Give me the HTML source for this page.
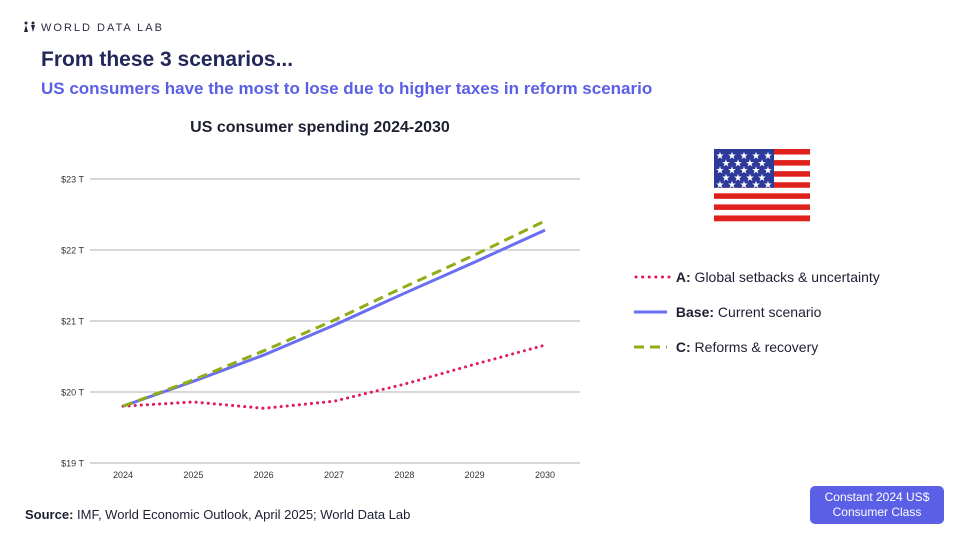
<!DOCTYPE html>
<html><head><meta charset="utf-8"><style>
body{margin:0;width:960px;height:540px;background:#fff;font-family:"Liberation Sans",sans-serif;position:relative;overflow:hidden}
.abs{position:absolute}
</style></head><body>
<div class="abs" style="left:23px;top:21px;font-size:11px;letter-spacing:2px;color:#2b2b45">
<svg width="14" height="11" style="vertical-align:-1px;margin-right:4px"><circle cx="3" cy="2" r="1.5" fill="#1f2340"/><polygon points="1,11 5,11 3,4" fill="#1f2340"/><circle cx="10" cy="2" r="1.5" fill="#1f2340"/><polygon points="8,4 12,4 10,11" fill="#1f2340"/></svg>WORLD DATA LAB</div>
<div class="abs" style="left:41px;top:48px;font-size:21px;font-weight:bold;color:#23275a">From these 3 scenarios...</div>
<div class="abs" style="left:41px;top:79px;font-size:17px;font-weight:bold;color:#5b5fe6">US consumers have the most to lose due to higher taxes in reform scenario</div>
<div class="abs" style="left:120px;width:400px;text-align:center;top:119px;font-size:16px;font-weight:bold;color:#1d1f33">US consumer spending 2024-2030</div>
<svg class="abs" style="left:0;top:0" width="960" height="540" id="chart"></svg>
<svg class="abs" style="left:714px;top:149px" width="97" height="73" id="flag"></svg>
<div class="abs" style="left:634px;top:269px;font-size:14px;color:#1d1f33">
<div style="height:35px"><svg width="38" height="10"><line x1="2" y1="5" x2="36" y2="5" stroke="#e2185a" stroke-width="3" stroke-linecap="round" stroke-dasharray="0.1 6.5"/></svg> <b>A:</b> Global setbacks &amp; uncertainty</div>
<div style="height:35px"><svg width="38" height="10"><line x1="0" y1="5" x2="33" y2="5" stroke="#6a6ef0" stroke-width="3"/></svg> <b>Base:</b> Current scenario</div>
<div style="height:35px"><svg width="38" height="10"><line x1="0" y1="5" x2="33" y2="5" stroke="#8fad15" stroke-width="3" stroke-dasharray="10 6"/></svg> <b>C:</b> Reforms &amp; recovery</div>
</div>
<div class="abs" style="left:25px;top:507px;font-size:13px;color:#1d1f33"><b>Source:</b> IMF, World Economic Outlook, April 2025; World Data Lab</div>
<div class="abs" style="left:810px;top:486px;width:134px;height:38px;background:#5b5fe6;color:#fff;border-radius:5px;font-size:12px;text-align:center;line-height:15px;padding-top:4px;box-sizing:border-box">Constant 2024 US$<br>Consumer Class</div>
<script>
const years=[2024,2025,2026,2027,2028,2029,2030];
const yTicks=[19,20,21,22,23];
const seriesA=[19.80,19.86,19.77,19.87,20.11,20.39,20.66];
const seriesBase=[19.80,20.15,20.52,20.94,21.39,21.83,22.28];
const seriesC=[19.80,20.17,20.58,21.01,21.48,21.93,22.41];
const NS="http://www.w3.org/2000/svg";
const svg=document.getElementById('chart');
const x=i=>123+i*(545-123)/(years.length-1);
const y=v=>463-(v-19)*71;
function mk(t,a){const e=document.createElementNS(NS,t);for(const k in a)e.setAttribute(k,a[k]);svg.appendChild(e);return e;}
yTicks.forEach(t=>{
const l=mk('line',{x1:90,x2:580,y1:y(t),y2:y(t),stroke:'#b0b0b8','stroke-width':1});


const tx=mk('text',{x:84,y:y(t)+3.5,'text-anchor':'end','font-size':9,fill:'#333','font-family':'Liberation Sans'});
tx.textContent='$'+t+' T';


});
years.forEach((yr,i)=>{
const tx=mk('text',{x:x(i),y:478,'text-anchor':'middle','font-size':9,fill:'#333','font-family':'Liberation Sans'});
tx.textContent=yr;


});
function line(d,st,dash,cap,name){
const p=mk('path',{d:d.map((v,i)=>(i?'L':'M')+x(i)+' '+y(v)).join(''),fill:'none',stroke:st,'stroke-width':3,'stroke-dasharray':dash,'stroke-linecap':cap});


}
line(seriesA,'#e2185a','0.1 6','round','line-a');
line(seriesBase,'#6a6ef0','none','butt','line-base');
line(seriesC,'#8fad15','10 6','butt','line-c');
const f=document.getElementById('flag');
function fk(t,a){const e=document.createElementNS(NS,t);for(const k in a)e.setAttribute(k,a[k]);f.appendChild(e);return e;}
const sh=72/13;
for(let i=0;i<13;i++)fk('rect',{x:0,y:i*sh,width:96,height:sh+0.3,fill:i%2?'#fff':'#e0201c'});
fk('rect',{x:0,y:0,width:60,height:7*sh,fill:'#2e3a9a'});
for(let r=0;r<5;r++){const n=r%2?4:5;for(let c=0;c<n;c++){const t=fk('text',{x:(r%2?12:6)+c*12,y:10+r*7.3,'font-size':10,fill:'#fff','text-anchor':'middle'});t.textContent='★';}}
</script>
</body></html>
